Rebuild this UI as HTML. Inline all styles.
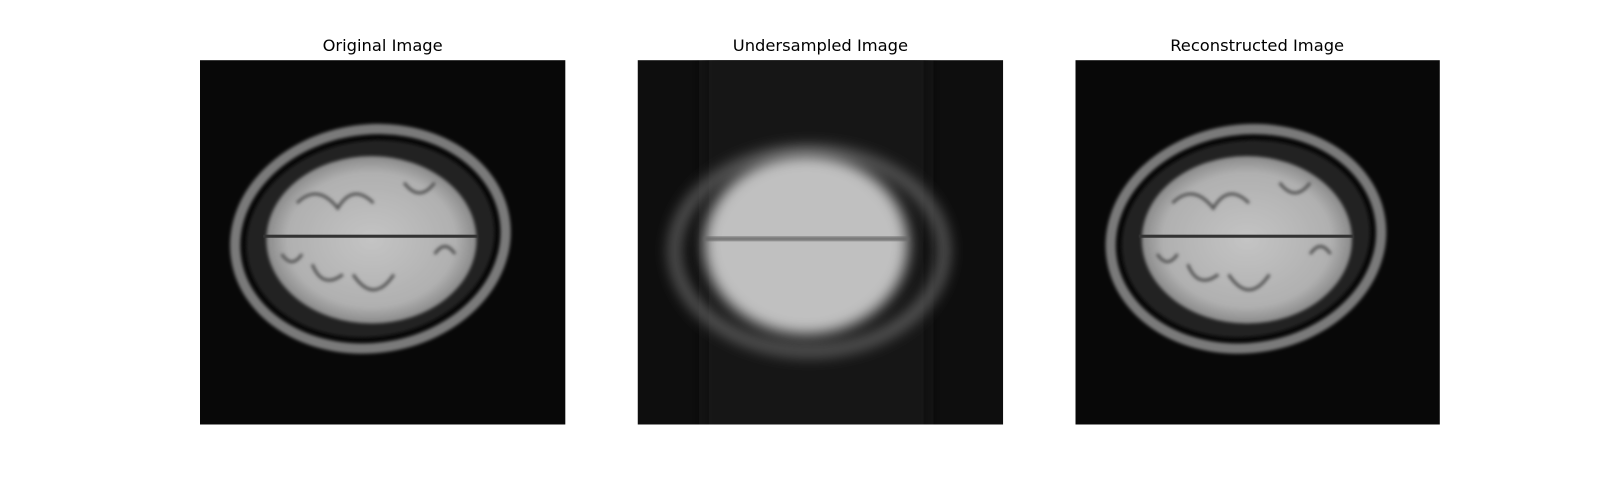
<!DOCTYPE html>
<html><head><meta charset="utf-8">
<style>
html,body{margin:0;padding:0;background:#fff;}
body{width:1600px;height:480px;position:relative;overflow:hidden;font-family:"DejaVu Sans","Liberation Sans",sans-serif;}
svg{position:absolute;left:0;top:0;}
</style></head><body>
<svg width="1600" height="480" viewBox="0 0 1568 470.4" font-family="DejaVu Sans, Liberation Sans, sans-serif">
<defs>
<filter id="b1"><feGaussianBlur stdDeviation="1.5"/></filter>
<filter id="b2"><feGaussianBlur stdDeviation="7"/></filter>
<clipPath id="c2"><rect x="625" y="59" width="358" height="357"/></clipPath>
<radialGradient id="br" cx="50%" cy="50%" r="50%">
<stop offset="0" stop-color="#c4c4c4"/><stop offset="0.8" stop-color="#b0b0b0"/><stop offset="1" stop-color="#8a8a8a"/>
</radialGradient>
<g id="brain">
<ellipse cx="167" cy="175" rx="133" ry="107" transform="rotate(-8 167 175)" fill="none" stroke="#7a7a7a" stroke-width="10" filter="url(#b1)"/>
<ellipse cx="167" cy="175" rx="122" ry="96" transform="rotate(-8 167 175)" fill="#222" filter="url(#b1)"/>
<ellipse cx="168" cy="176" rx="103" ry="82" fill="url(#br)" filter="url(#b1)"/>
<path d="M95 140 q20 -20 40 5 q15 -25 35 -5 M150 210 q20 30 40 0 M110 200 q10 25 30 10 M200 120 q15 20 30 0 M80 190 q10 15 20 0 M230 190 q10 -15 20 0" stroke="#555" stroke-width="3" fill="none" filter="url(#b1)"/>
<rect x="62" y="171" width="210" height="3" fill="#333"/>
</g>
</defs>
<text x="375" y="50" font-size="16" text-anchor="middle">Original Image</text>
<text x="804" y="50" font-size="16" text-anchor="middle">Undersampled Image</text>
<text x="1232" y="50" font-size="16" text-anchor="middle">Reconstructed Image</text>
<rect x="196" y="59" width="358" height="357" fill="#080808"/>
<use href="#brain" x="196" y="59"/>
<rect x="625" y="59" width="358" height="357" fill="#0e0e0e"/>
<g clip-path="url(#c2)">
<rect x="690" y="40" width="220" height="400" fill="#161616" filter="url(#b2)"/>
<ellipse cx="793" cy="246" rx="132" ry="98" fill="none" stroke="#6a6a6a" stroke-width="10" filter="url(#b2)"/>
<ellipse cx="790" cy="240" rx="100" ry="88" fill="#c0c0c0" filter="url(#b2)"/>
<rect x="690" y="232" width="200" height="4" fill="#666" filter="url(#b1)"/>
</g>
<rect x="1054" y="59" width="357" height="357" fill="#080808"/>
<use href="#brain" x="1054" y="59"/>
</svg>
</body></html>
